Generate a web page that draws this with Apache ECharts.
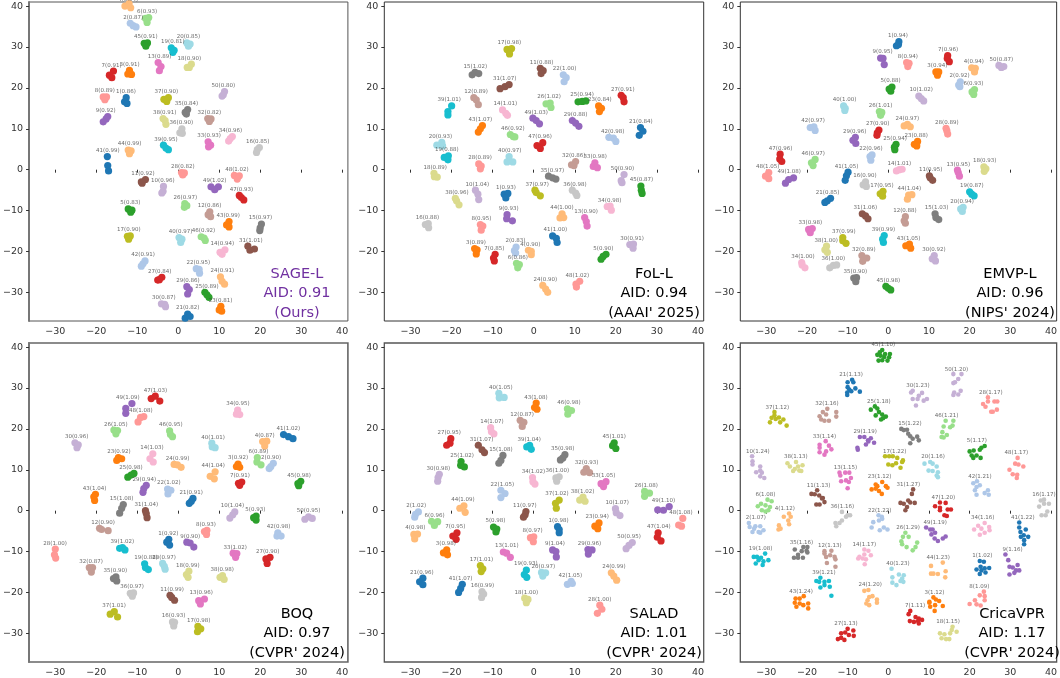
<!DOCTYPE html>
<html>
<head>
<meta charset="utf-8">
<style>html,body{margin:0;padding:0;background:#fff}#chart{width:1060px;height:678px;filter:blur(0.35px)}</style>
<script src="https://cdn.jsdelivr.net/npm/echarts@6/dist/echarts.min.js"></script>
</head>
<body>
<div id="chart"></div>
<script>
const tickValues = [-30,-20,-10,0,10,20,30,40];
const tab20 = ['#1f77b4','#aec7e8','#ff7f0e','#ffbb78','#2ca02c','#98df8a','#d62728','#ff9896','#9467bd','#c5b0d5','#8c564b','#c49c94','#e377c2','#f7b6d2','#7f7f7f','#c7c7c7','#bcbd22','#dbdb8d','#17becf','#9edae5'];

// each row: cluster id, AID, then x,y pairs
const sage = [
[4,'0.94',-13,40,-12,40.6,-11.6,39.6],[6,'0.93',-8,37,-7.2,37.2,-7.6,36],[2,'0.87',-11.7,35.8,-11,35.2,-10.3,34.9],
[45,'0.91',-8.3,30.9,-7.5,31,-7.9,30.2],[20,'0.85',2.1,31,2.9,30.7,2.5,30.2],[19,'0.81',-1.7,29.8,-1,29.2,-1.3,28.7],
[13,'0.89',-4.9,26.2,-4.2,25.2,-4.6,24.2],[18,'0.90',2.2,25,3.2,25.8,2.7,25],[7,'0.91',-15.8,24.1,-16.8,23.1,-16.2,22.5],
[3,'0.91',-11.9,24.3,-12.3,23.4,-11.4,23.3],[50,'0.80',11.3,19.1,11,18.3,10.7,18],[8,'0.89',-18.3,17.8,-17.5,17.8,-17.9,17.1],
[1,'0.86',-12.7,17.6,-13.1,16.6,-12.5,16.2],[37,'0.90',-3.5,17.2,-2.4,17.6,-2.8,16.7],[35,'0.84',2.3,14.7,1.7,14,2,13.6],
[32,'0.82',7.2,12.5,8,12.4,7.6,11.8],[9,'0.92',-17.2,13,-17.6,12.4,-18.3,11.7],[38,'0.91',-3.7,12.5,-3.2,12,-3,11.1],
[36,'0.90',0.9,10,0.4,9,1,8.9],[34,'0.96',13.2,8.1,12.7,7.6,12.3,7],[33,'0.93',7.3,6.8,7.9,6,7.4,5.6],
[16,'0.85',19.8,5.4,19.3,4.9,19.1,4.2],[39,'0.95',-3.6,6,-3,5.3,-2.4,4.9],[44,'0.99',-12.2,4.8,-11.5,4.6,-11.9,3.9],
[41,'0.99',-17.3,3.2,-17.2,1,-17,-0.3],[28,'0.82',0.8,-0.7,1.5,-0.8,1.1,-1.3],[48,'1.02',13.7,-1.4,14.9,-1.5,14.4,-2.3],
[11,'0.92',-9,-3,-8,-2.4,-8.8,-3.3],[10,'0.96',-3.6,-4.1,-3.7,-5.3,-4,-5.7],[49,'1.02',8,-4.2,9.8,-4.2,8.9,-4.9],
[47,'0.93',14.9,-6.3,15.4,-6.8,16,-7.4],[26,'0.97',1.6,-8.3,2.1,-8.8,1.5,-9.2],[5,'0.83',-12.2,-9.6,-11.3,-9.9,-11.6,-10.4],
[12,'0.86',7.7,-10.3,7.3,-11,7.9,-11.5],[43,'0.99',12.4,-12.7,11.8,-13.5,12.4,-14],[15,'0.97',20.3,-13.3,20,-14.2,19.9,-14.9],
[17,'0.90',-12.4,-16.3,-11.7,-16.2,-12.1,-17],[40,'0.97',0.2,-16.6,0.9,-17,0.6,-17.8],[46,'0.92',5.6,-16.4,6.3,-16.7,6.6,-17.3],
[14,'0.94',10.2,-20.2,11.4,-19.6,10.7,-20.7],[31,'1.01',17,-18.7,18.6,-19.4,17.5,-19.7],[42,'0.91',-8.1,-22.3,-8.6,-23,-9,-23.6],
[22,'0.95',4.4,-24.2,5.1,-24.4,5.2,-25.3],[24,'0.91',10.3,-26.2,10.7,-27.3,11.3,-28],[27,'0.84',-5,-27,-4,-26.3,-4.6,-26.9],
[29,'0.86',2.1,-28.6,2.7,-29.3,2.3,-30.4],[25,'0.89',6.5,-30,7,-30.6,7.5,-31.2],[30,'0.87',-4.1,-32.8,-3.3,-32.9,-3.1,-33.5],
[23,'0.81',10.4,-33.4,10,-34.3,10.6,-34.6],[21,'0.82',2.3,-35.3,1.7,-36.3,2.9,-35.9]
];
const fol = [
[17,'0.98',-6.5,29.4,-5.4,29.6,-5.9,28.3],[11,'0.88',1.6,24.8,2.3,24.2,1.8,23.5],[15,'1.02',-15,23.2,-14.3,23.8,-13.4,23.5],
[22,'1.00',7.2,23.2,7.9,22.5,7.4,21.5],[31,'1.07',-8.2,19.8,-7,20.3,-6,20.8],[12,'0.89',-14.6,17.6,-14,17.1,-13.5,15.9],
[39,'1.01',-20,15.6,-20.9,14.2,-20.9,13.4],[14,'1.01',-7.6,14.6,-6.8,13.8,-6.4,13.3],[26,'1.02',3,16.1,4,16.3,4.2,15.2],
[25,'0.94',10.8,16.6,11.8,16.7,12.7,16.8],[23,'0.84',15.8,15.6,16.5,15,16,14.2],[27,'0.91',21.3,18.2,21.8,17.6,22,16.6],
[49,'1.03',-0.2,12.6,0.6,12,1.4,11.2],[29,'0.88',9.4,12,10.2,11.4,11,10.6],[43,'1.07',-12.5,10.8,-13,10,-13.5,9.2],
[46,'0.92',-5.7,8.6,-5,8.1,-4.6,8],[21,'0.84',26,10.3,26.6,9.4,25.7,8.4],[42,'0.98',18.3,7.9,19.4,7.7,20,6.9],
[47,'0.96',0.8,5.9,2.2,6.6,1.6,5.2],[20,'0.93',-23.6,6,-22.4,6.7,-22.2,5.8],[19,'0.88',-21.8,3,-20.8,3.4,-20.9,2.4],
[40,'0.97',-6,3.2,-6.5,1.9,-5.1,1.9],[28,'0.89',-13.4,1.4,-12.8,0.9,-13,0.2],[32,'0.86',9.2,1.2,10.2,2,9.8,1],
[33,'0.98',14.9,1.7,14.5,0.8,15.5,0.5],[18,'0.89',-24.3,-0.9,-24.2,-1.7,-23.5,-1.8],[35,'0.97',3.6,-1.6,4.6,-2,5.4,-2.3],
[50,'0.90',22,-1.2,21.3,-2.7,21.5,-3.2],[45,'0.87',26.1,-4,26.2,-5,26.4,-5.8],[1,'0.93',-7.2,-6,-6.3,-5.8,-6.8,-6.9],
[37,'0.97',0.3,-5,0.6,-5.6,1.6,-6.4],[36,'0.98',9.4,-5,10.2,-5.7,10.5,-6.3],[10,'1.04',-14.2,-5,-13.6,-6,-13.4,-7.3],
[38,'0.96',-19.1,-7,-18.8,-7.6,-18.2,-8.6],[34,'0.98',17.9,-9,18.6,-8.9,18.9,-9.9],[9,'0.93',-6.5,-11,-6.6,-12,-5.2,-12.5],
[44,'1.00',6.9,-10.8,6.4,-11.8,7.3,-11.7],[13,'0.90',12.4,-11.7,12.8,-12.7,13,-13.8],[16,'0.88',-26.4,-13.4,-25.7,-13.2,-25.6,-14.2],
[8,'0.95',-13,-13.4,-12.4,-13.8,-12.8,-14.8],[41,'1.00',4.6,-16.2,5.5,-16.8,5.7,-17.8],[30,'0.91',23.4,-18.3,24.3,-18.2,24.2,-19.2],
[3,'0.89',-14.4,-19.3,-13.8,-19.6,-14,-20.6],[2,'0.83',-4.3,-18.9,-4.7,-19.8,-4.4,-20.4],[4,'0.90',-1.3,-19.7,-0.6,-20,-0.6,-20.8],
[7,'0.85',-9.4,-20.7,-9.8,-21.6,-9.6,-22.3],[6,'0.86',-4.2,-22.9,-3.5,-23.2,-3.9,-24],[5,'0.90',17.6,-20.7,16.9,-21.2,16.4,-21.9],
[24,'0.90',2.2,-28.3,2.9,-29.2,3.4,-30],[48,'1.02',11.2,-27.3,10.3,-28,10.4,-28.7]
];
const emvp = [
[1,'0.94',2.6,31.3,2.5,30.6,2,30.3],[9,'0.95',-1.9,27.3,-1.3,27.2,-1,25.7],[8,'0.94',4.5,26.2,5.1,26,4.8,25.2],
[7,'0.96',14.6,27.9,14.5,27.2,15,26.4],[3,'0.94',11.7,23.9,12.4,23.9,12.1,23.1],[4,'0.94',20.5,24.9,21.4,24.8,21.2,23.9],
[50,'0.87',27.2,25.5,27.8,25,28.4,25.2],[2,'0.92',17.7,21.5,17.3,20.7,17.6,20.3],[6,'0.93',21.2,19.6,20.6,19,21,18.4],
[5,'0.88',0.9,20.2,0.2,19.7,0.6,19.2],[10,'1.02',7.5,18,8.1,17.4,8.7,16.8],[40,'1.00',-11,15.6,-10.6,15,-10.7,14.5],
[26,'1.01',-2.2,14.2,-1.6,14,-1.9,13.3],[24,'0.97',3.9,10.7,4.7,11.1,5.4,10.5],[42,'0.97',-19.2,10.3,-18.3,10.5,-18,9.6],
[27,'0.90',-2.3,9.7,-2.7,9,-2.8,8.4],[28,'0.89',14.2,10.1,14.4,9.5,14.6,8.7],[29,'0.96',-8.1,7.9,-8.7,7.2,-8,6.4],
[25,'0.94',1.9,6.2,1.5,5.5,1.6,4.9],[23,'0.88',7.2,6.9,6.4,6.2,7,5.8],[47,'0.96',-26.6,3.8,-26.7,2.6,-26.2,2],
[46,'0.97',-18,2.5,-18.9,1.7,-18.5,1],[22,'0.96',-4,3.6,-4.5,3.2,-4.3,2.3],[14,'1.01',2,-0.3,2.7,0,3.4,0.1],
[13,'0.95',17,-0.1,17.2,-0.7,17.5,-1.6],[18,'0.93',23.5,0.7,24,0.2,23.6,-0.4],[48,'1.05',-29.4,-0.7,-30.2,-1.6,-29.4,-2.2],
[49,'1.08',-23.3,-2,-24.5,-2.4,-25.3,-3.3],[41,'1.05',-9.9,-0.6,-10.3,-1.5,-10.6,-2.6],[11,'0.95',10.1,-1.5,10.3,-2,10.9,-2.6],
[16,'0.90',-5.6,-3,-6.2,-3.7,-5.4,-4.1],[17,'0.95',-1.3,-5.3,-2,-5.9,-1.4,-6.5],[44,'1.04',5,-6.2,5.8,-6.1,4.7,-7.2],
[19,'0.87',20,-5.4,20.5,-6,21.1,-6.4],[21,'0.85',-14.2,-7,-15,-7.6,-15.6,-8],[20,'0.94',18.4,-9.2,17.8,-9.6,18.2,-10.2],
[31,'1.06',-6.4,-10.8,-5.6,-11.3,-5,-12],[12,'0.88',4.2,-11.5,3.9,-12.5,4.2,-13.1],[15,'1.03',11.5,-10.8,11.7,-11.7,12.4,-12.2],
[33,'0.98',-19.6,-14.6,-18.7,-14.4,-19.2,-15.4],[37,'0.99',-11.2,-16.6,-11.2,-17.4,-10.4,-18],[39,'0.99',-1,-16.1,-1.4,-17,-1.2,-17.8],
[43,'1.05',4.3,-18.6,5.2,-18.2,5.5,-19.2],[38,'1.00',-15.2,-18.7,-15.6,-19.6,-15,-20.2],[32,'0.89',-6.5,-21,-5.3,-21.6,-6.3,-22.4],
[30,'0.92',11.3,-21,10.8,-21.8,11.6,-22.3],[34,'1.00',-21.3,-22.7,-21.2,-23.3,-20.5,-24],[36,'1.00',-14.4,-24,-13.5,-23.4,-12.7,-23.3],
[35,'0.90',-8.5,-26.5,-7.8,-26.4,-8,-27.4],[45,'0.98',-0.6,-28.5,0,-29,0.6,-29.4]
];
const boq = [
[47,'1.03',-6.6,27.4,-5.6,28,-4.5,26.8],[49,'1.09',-11.3,26.2,-12.8,25,-12.8,23.8],[48,'1.08',-8.4,23,-9.2,22.8,-9.8,21.7],
[34,'0.95',14.5,24.6,14.2,23.6,15,23.5],[26,'1.05',-15.7,19.7,-14.8,19.6,-15.2,18.8],[46,'0.95',-2.1,19.5,-1.9,18.6,-1.4,18.1],
[30,'0.96',-25.2,16.6,-24.4,16.1,-24.7,15.4],[41,'1.02',25.7,18.6,26.9,18.1,28,17.6],[4,'0.87',20.6,16.9,21.6,17,21.1,15.8],
[40,'1.01',8.2,16.5,8.3,15.6,9,15.4],[23,'0.92',-15,12.3,-14.6,13,-13.8,12.7],[14,'1.03',-6.2,13.9,-6.9,12.7,-6.1,11.9],
[6,'0.89',19.3,13,19.2,11.9,20.2,11.2],[2,'0.90',23.2,11.6,22.6,10.8,22.2,10.3],[3,'0.92',14.6,11.4,14.2,10.8,15,10.6],
[24,'0.99',-1,11.3,-0.2,11.2,0.7,10.6],[25,'0.98',-12.3,8.2,-11.5,8.7,-10.8,9.1],[44,'1.04',9,9.5,7.8,8.4,8.8,7.8],
[7,'0.91',14.7,6.7,15.5,7,15,6.2],[45,'0.98',29.9,7.2,29.2,6.6,29.4,6.1],[29,'0.94',-7.8,6.2,-8.4,5.4,-8.6,4.5],
[22,'1.02',-2.6,5.3,-1.8,5,-2.5,4.1],[43,'1.04',-20.2,4,-20.6,3.4,-20.4,2.5],[21,'0.91',3.6,3,3.2,2.3,2.7,1.8],
[15,'1.08',-13.4,1.5,-13.8,0.6,-14.3,-0.6],[31,'1.04',-8,0,-7.8,-0.7,-7.6,-1.7],[10,'1.04',13.8,-0.3,13.3,-1,12.6,-1.8],
[5,'0.93',19,-1.3,18.4,-1.7,19,-2.3],[50,'0.95',30.9,-2.1,31.8,-1.5,32.7,-1.9],[12,'0.90',-19.2,-4.3,-18.7,-4.6,-17.1,-4.9],
[8,'0.93',7,-4.8,6.4,-5.1,6.9,-5.8],[42,'0.98',24.3,-5.4,24.1,-6.2,25.1,-6.2],[1,'0.92',-2.3,-7,-2.8,-7.7,-2.1,-8.4],
[9,'0.90',2.1,-7.7,2.9,-7.9,3.8,-8.9],[39,'1.02',-14.3,-9.2,-13.6,-9,-13,-9.6],[33,'1.02',13.4,-10.4,14.3,-10.5,14,-11.4],
[27,'0.90',21.4,-11.8,22.4,-11.4,21.7,-12.9],[28,'1.00',-30,-9.4,-30.2,-10.8,-29.9,-11.6],[32,'0.87',-21.7,-13.9,-20.9,-13.9,-21.2,-15],
[19,'0.88',-8.2,-13,-8,-13.9,-7.3,-14.4],[20,'0.97',-3.8,-12.9,-3.4,-13.6,-3.2,-14.3],[18,'0.99',2.6,-14.8,2,-15.6,2.4,-16.3],
[38,'0.98',10.2,-16.3,10.8,-15.9,11.2,-16.8],[35,'0.90',-15.8,-16.6,-15.2,-16.2,-15,-17.2],[36,'0.97',-11.7,-20.2,-10.9,-20.1,-11.2,-20.9],
[11,'0.99',-2,-20.7,-1.6,-21.2,-0.9,-21.9],[13,'0.96',5,-22,6.4,-21.6,5.4,-22.8],[37,'1.01',-16.6,-25.3,-15.6,-24.7,-14.8,-26],
[16,'0.93',-1.4,-27.2,-0.9,-27.3,-1.1,-28.2],[17,'0.98',4.8,-28.3,5.5,-28.9,4.7,-29.6]
];
const salad = [
[40,'1.05',-8.5,28.7,-8.4,27.6,-7.2,27.7],[43,'1.08',0.6,26.3,0.2,25.2,0.8,24.8],[46,'0.98',8.2,24.9,9.2,24.5,8.3,23.6],
[12,'0.87',-3.3,22.1,-2.4,21.6,-2.8,20.6],[14,'1.07',-10.5,20.3,-10.3,19.3,-9.7,18.8],[27,'0.95',-20.2,17.6,-20.4,16.5,-21.2,16],
[31,'1.07',-13.5,16,-12.6,14.9,-12,14.2],[39,'1.04',-1.7,15.6,-1,16,-0.6,15],[45,'1.01',19.6,16.6,19.2,15.9,20,15.2],
[35,'0.98',7.6,13.7,7.1,12.9,6.5,12.4],[15,'1.08',-7.5,13.5,-8,12.3,-8.5,11.6],[25,'1.02',-17.7,12,-17.8,11.1,-16.9,10.7],
[32,'0.93',12.8,10.3,12.2,9.4,13.6,9.3],[30,'0.98',-23,8.9,-23.3,8.1,-23.4,7.2],[36,'1.00',5.4,8,6.2,8.3,5.6,7.2],
[34,'1.02',-0.3,8.1,-0.2,7.1,0.3,6.5],[33,'1.05',16.4,6.6,17.6,7.1,17,5.9],[26,'1.08',27,4.7,28.2,4.3,27,3.5],
[22,'1.05',-8,5,-7,4.2,-8,3.2],[38,'1.02',12,3.3,11.2,2.6,12.5,2.3],[37,'1.02',6.2,2.6,5.3,1.8,5.5,0.6],
[44,'1.09',-18,0.6,-17,1.2,-16.7,-0.4],[10,'1.07',19.9,0.5,20.1,-0.5,21,-1.2],[49,'1.10',30.2,0.2,31.6,0.1,33,1],
[2,'1.02',-28.1,-0.3,-28.8,-0.9,-29,-1.6],[11,'0.97',-1.9,-0.2,-2.1,-1,-2.5,-1.6],[48,'1.08',36.3,-1.9,35.3,-3.5,36,-3.8],
[6,'0.96',-24.9,-2.6,-23.4,-2.7,-24.2,-3.6],[23,'0.94',15.9,-3,14.9,-3.8,15.6,-4.4],[5,'0.98',-9.8,-4,-9,-4.5,-9.2,-5.2],
[1,'0.98',5.8,-3.9,6.2,-4.6,6.2,-5.4],[47,'1.04',30.3,-5.4,30.1,-6.5,31,-7.4],[4,'0.98',-29.2,-5.8,-28.3,-5.7,-29,-6.9],
[7,'0.95',-18.7,-5.4,-19.7,-6.2,-18.9,-7],[8,'0.97',-0.8,-6.6,0,-6.4,-0.1,-7.6],[3,'0.98',-21.2,-9.6,-22,-10.3,-21,-10.8],
[13,'1.01',-7.4,-10.1,-6.6,-10.4,-5.7,-11.4],[9,'1.04',4.6,-9.6,5.4,-10,5.5,-11.3],[29,'0.96',13.2,-9.5,14.2,-9.6,13.3,-10.6],
[50,'0.95',24,-7.8,23.2,-8.5,22.5,-9.3],[17,'1.01',-13,-13.4,-12.4,-14.2,-12.8,-14.9],[19,'0.93',-1.8,-14.5,-2.3,-15.6,-1.7,-16.3],
[20,'0.97',1.9,-15.1,2.9,-15.2,2.2,-16],[24,'0.99',18.9,-15.2,19.5,-16,20.2,-17],[42,'1.05',8.2,-18,9.1,-17.3,9.4,-17.8],
[21,'0.96',-27,-16.5,-27.8,-17.4,-27,-18.1],[41,'1.07',-17.4,-18,-17.8,-19,-18.3,-20],[16,'0.99',-12.6,-19.8,-12.2,-20.4,-12.7,-21.2],
[18,'1.00',-2.2,-21.4,-1.4,-21.7,-1.8,-22.5],[28,'1.00',16.1,-23.1,16.6,-24.1,15.5,-25.1]
];
const crica = [
[45,'1.10',-2.7,38.1,-2.1,38.7,-1.5,39.3,-0.8,38.3,0.4,38.3,-2.4,36.7,-1.5,36.8,-0.2,36.7,-1,37.6,-1.9,37.9,0.2,37.5],
[21,'1.13',-8.9,32,-10,31.4,-8.6,31.4,-10,30.2,-9.6,29.6,-8.1,29.9,-7,29.1,-10.1,28.9,-9.1,29.2,-10.1,28.3],
[30,'1.23',5.6,28.9,6,29.3,8.3,28.8,7.5,28.1,6,27.3,7.2,27.3,9.5,27.3,8.7,26.9,6.8,25.7],
[50,'1.20',16,33.4,18,33.4,17.2,32.2,16.4,31.4,16,31.2,17.8,29.3,16.2,28.9,17.2,28.4,16,28.3],
[28,'1.17',24.5,27.7,24.5,26.7,23.3,26.1,26.1,26.7,26.8,26.7,23.9,25.4,25.3,24.2,25.7,24.2,26.7,24.7],
[37,'1.12',-28,24.1,-28,23.3,-28.7,22.7,-29.1,21.6,-27.7,22.4,-26.9,22.8,-26.6,21.6,-25.8,22.3,-25,20.8],
[32,'1.16',-15,24.9,-16.1,24.1,-16.9,23.1,-15.3,23.5,-12.8,24.1,-12.8,23,-16.5,22.3,-15.7,22,-14.6,22],
[25,'1.18',-4.3,24.7,-3.3,25.5,-2.7,25,-2.3,24.1,-1.5,23.5,-3.1,23.3,-1.3,22.6,-0.6,23,-1.8,22.3],
[46,'1.21',16,22,14.1,22,13.6,20.6,15.2,20.4,15.8,20.8,13.3,19.2,13.1,18,14.4,18.5,13.6,17.9],
[15,'1.22',3.2,20,4.6,19.8,4.9,18.8,5.4,18.2,7.1,18.1,6,17.6,7.5,17.2,5.4,16.5,3.8,19.7],
[29,'1.19',-7,18,-5.9,18,-4.3,17.7,-3.5,16.6,-5.5,16.2,-5,17.2,-7.6,15.4,-7.5,14.9,-4.9,16.9],
[33,'1.14',-15.4,17,-16.9,16.1,-16.9,15.4,-14.6,15.9,-14,15,-16.9,14.3,-15.7,13.7,-15.3,14.5],
[5,'1.17',20,14.5,21,14.7,20.5,13.5,21.7,13.5,22.5,14.9,23.7,15.8,22.9,15.4,20.9,12.9,22.7,12.9],
[17,'1.22',-0.8,13.3,0.2,13.3,1.1,13.3,2.2,12.9,3.6,12.3,0,11.3,1,11.1,1.9,11.6,3,10.5,3.4,11.9],
[48,'1.17',31.8,12.9,31.2,11.5,32,11.3,33.2,10.8,29.8,10,30.6,8.9,31.7,8.8,31.6,8],
[10,'1.24',-33.5,13.3,-33.4,12.1,-33.4,11.3,-31.5,10.8,-31.5,9.8,-32.5,9.4,-31.1,9.3,-31.5,8.4,-30.5,8],
[38,'1.13',-24.8,11.6,-24.2,10.8,-22.7,11.9,-22.2,10.8,-21.1,11.1,-23.4,9.7,-21.9,9.8,-21.4,9.7,-23,10.2],
[20,'1.16',8.9,11.5,10.3,11.9,10.9,11.5,11.9,10.8,9.9,9.8,10.9,9.7,12.2,9.4,11.9,8.6,12.2,8.2],
[13,'1.15',-12,9.3,-11.8,8.6,-10.6,9.3,-9.6,9.3,-9.2,8,-11.6,7.2,-10.4,7.4,-9.7,7,-10,5.5],
[42,'1.21',20.9,6.7,21.8,7.2,22.5,6.2,21.3,5,21.7,3.9,24.5,5,23.7,4.3,24.7,3.9,21.7,5.8],
[23,'1.12',-3.1,5.4,-4.1,5.2,-2.7,6,-1.5,7,-0.6,6,-0.2,5.6,-2.3,4.8,-1.6,4.1,-3.1,6.4],
[11,'1.13',-17.5,5,-18.9,4.1,-18.1,4,-17,3.7,-16.1,3.1,-15.7,2.1,-17.7,1.5,-16.9,1.5,-16.3,3],
[31,'1.27',6.1,5.2,5.8,4.1,3,1.9,3.8,1.7,4.9,2.5,6.5,1.9,5.4,2,4.6,0.9,4.2,0.1],
[47,'1.20',11.5,1.1,12.7,2,14.1,1.9,12.7,0.7,14.6,0.3,15.4,0.3,13.8,-1.1,14.4,-1.3,12.7,0.1],
[16,'1.17',37.5,2.5,38.3,2.7,39.5,1.7,37.1,1,38.3,1.7,39.1,-0.2,37.7,-1.1,38.7,-1.1],
[6,'1.08',-29.7,2.7,-28.7,2.3,-31.3,1.7,-32.1,1.1,-30.2,1.3,-30.2,-0.2,-29.1,0.9,-29.5,0.1,-31.1,0.1],
[4,'1.12',-24.4,-0.7,-25.7,-1.5,-24,-1.5,-24.6,-2.4,-26.9,-3.6,-24.4,-3.3,-27,-4.6,-26.5,-4.4],
[36,'1.16',-11.4,-0.3,-9.4,-1.1,-10.4,-1.5,-11.4,-2.4,-13,-3,-12.8,-3.8,-12,-3,-10,-1.1],
[22,'1.22',-2.4,-1.1,-1.5,-2,-2.3,-2.4,-3.7,-2.8,-4.1,-4.1,-2.1,-4.8,-1.1,-4.1,-0.2,-4.6,-1.6,-1.5],
[2,'1.07',-34.3,-3,-34.1,-4,-32.7,-3.8,-31.5,-3.8,-33.4,-5.2,-31.9,-5.2,-30.7,-4.8,-31.5,-5.4,-33,-4.4],
[34,'1.16',23.7,-3,22.1,-3.7,21.1,-4.6,22.5,-5.9,23.7,-5.4,24.9,-4.8,24.8,-4,22.9,-4.4],
[49,'1.19',9.3,-4.1,10.3,-4.6,10.9,-4.6,10.6,-5.8,11.4,-6.8,12.2,-7.4,13.4,-6.8,14.1,-6.3,11.5,-5.4],
[41,'1.22',32.2,-2.9,32.2,-4.1,32.5,-5.2,33.8,-4.6,33.3,-6,32.6,-6.4,34.4,-6.4,33.4,-7.2,33.4,-8.2],
[26,'1.29',4.2,-5.4,3.6,-6.4,3.2,-7.5,5,-6.4,4.5,-8.9,7.1,-7.8,6.7,-8.9,6,-9.7,3.4,-8.2],
[19,'1.08',-33.1,-11.3,-32.3,-11.3,-31.3,-11.5,-30.3,-10.5,-29.5,-12.1,-30.7,-12.4,-32.6,-12.9,-30.9,-13.3,-31.9,-12.1],
[35,'1.16',-23,-9.5,-20.9,-8.9,-19.9,-8.9,-21.3,-9.9,-20.1,-9.8,-23.2,-11.5,-22.2,-11.5,-21,-11.5,-19.9,-10.2,-22.2,-10.8],
[12,'1.13',-15.7,-9.9,-14,-9.8,-14.3,-10.9,-15.3,-11.3,-13.2,-11.3,-13,-11.9,-15.1,-12.8,-13,-13.7,-15.7,-10.5],
[14,'1.17',-5.9,-9.5,-4.9,-9.8,-5.9,-10.7,-4.3,-10.9,-7.4,-11.7,-6.3,-11.7,-5.5,-11.9,-5.8,-13.1,-7.1,-11.3],
[9,'1.16',28.8,-10.7,29.5,-12.1,29.8,-13.7,30.6,-13.9,31.8,-13.3,31.4,-14.6,29.8,-15.6,31,-15.2,32.2,-14.6],
[1,'1.02',22.5,-12.3,23.5,-12.5,22.7,-13.7,21.7,-14.4,23.7,-14.1,24.8,-14,22.5,-15.5,23.9,-15.1,22.9,-14.6],
[44,'1.23',13.4,-12.7,10.5,-13.5,10.5,-15.4,11.1,-15.4,12.2,-15.5,14.1,-14.8,14,-16.3],
[40,'1.23',0.8,-14.2,1,-16.3,2.6,-15.6,3.8,-15.8,3.4,-16.6,3,-17.2,2,-18.2,1,-17.6,3.7,-17.4],
[39,'1.21',-17.7,-17.2,-16.7,-16.4,-15.7,-17.4,-14.6,-17.2,-16.7,-18.8,-15.7,-18.2,-14.4,-18.6,-14,-20.8,-17,-17.4],
[24,'1.20',-5.9,-19.6,-4.9,-19.4,-4.7,-21.1,-3.9,-20.9,-2.8,-21.7,-5.4,-22.7,-4.7,-23.1,-2.8,-22.5,-5.1,-21.9],
[43,'1.24',-22.8,-21.5,-21.8,-21.5,-20.8,-20.9,-23,-22.5,-21.8,-22.7,-19.7,-22.7,-22.6,-23.5,-20.9,-23.1,-19.7,-23.9],
[3,'1.12',11.1,-21.2,10.1,-22.3,11.7,-21.7,12.5,-22.1,13.4,-23.3,10.3,-23.5,11.5,-23.1,11.4,-24.5,10.1,-22.5],
[8,'1.09',23.5,-19.8,22.5,-20.7,23.7,-20.9,20,-22.8,21.3,-21.9,21.7,-22.9,22.7,-23.2,23.7,-21.9],
[7,'1.11',5.4,-24.5,5,-25.3,6.7,-26,7.5,-26.4,5.3,-27,6.3,-27.2,7.3,-27,8.3,-26.7,7.5,-27.6],
[18,'1.15',15.8,-28.4,12.7,-30,13.8,-30.2,15.2,-30,16.8,-29.6,13.1,-31.2,14.2,-31.4,15,-31.4,15.6,-29.2],
[27,'1.13',-10,-28.9,-11.6,-30,-10.6,-29.8,-8.6,-29.3,-12.4,-31.4,-11.6,-31.1,-10.8,-31.6,-9.7,-30.4,-8.5,-30.6]
];

const panelNames = ['SAGE-L','FoL-L','EMVP-L','BOQ','SALAD','CricaVPR'];
const panelAid = ['AID: 0.91','AID: 0.94','AID: 0.96','AID: 0.97','AID: 1.01','AID: 1.17'];
const panelVenue = ['(Ours)',"(AAAI' 2025)","(NIPS' 2024)","(CVPR' 2024)","(CVPR' 2024)","(CVPR' 2024)"];
const panelData = [sage,fol,emvp,boq,salad,crica];

// layout only
const frames = [
  {left:28.5,top:2,dot:7.2,titleX:297,titleY:264,color:'#7030a0',edge:'#555',edgeW:1,thickLeft:true},
  {left:384.3,top:2,dot:7.2,titleX:654,titleY:264,color:'#000',edge:'#333',edgeW:1},
  {left:740.3,top:2,dot:7.2,titleX:1010,titleY:264,color:'#000',edge:'#333',edgeW:1},
  {left:28.5,top:343,dot:7.2,titleX:297,titleY:604,color:'#000',edge:'#666',edgeW:1.6,thickLeft:true},
  {left:384.3,top:343,dot:7.2,titleX:654,titleY:604,color:'#000',edge:'#555',edgeW:1.3},
  {left:740.3,top:343,dot:4.6,titleX:1012,titleY:604,color:'#000',edge:'#555',edgeW:1.3}
];
const PW=319.4, PH=319;
const grid=[],xAxis=[],yAxis=[],series=[],title=[];
const fmt=v=>String(v).replace('-','\u2212');
const tickCfg={show:true,customValues:tickValues,length:3,lineStyle:{color:'#333',width:1}};
const labelCfg={customValues:tickValues,formatter:fmt,fontSize:9.5,color:'#333',fontFamily:'DejaVu Sans',margin:6};
frames.forEach((f,i)=>{
  grid.push({left:f.left,top:f.top,width:PW,height:PH,show:true,borderColor:f.edge,borderWidth:f.edgeW,backgroundColor:'#fff'});
  xAxis.push({type:'value',gridIndex:i,min:-36.4,max:41.4,splitLine:{show:false},axisLine:{show:false},axisTick:tickCfg,axisLabel:labelCfg});
  yAxis.push({type:'value',gridIndex:i,min:-37,max:41,splitLine:{show:false},
    axisLine:{show:!!f.thickLeft,onZero:false,lineStyle:{color:'#777',width:2}},axisTick:tickCfg,axisLabel:labelCfg});
  const pts=[],labels=[];
  panelData[i].forEach(row=>{
    const id=row[0],aid=row[1];
    let sx=0,n=0,top=-99;
    for(let k=2;k<row.length;k+=2){
      pts.push([row[k],row[k+1],id]);
      sx+=row[k];n++;top=Math.max(top,row[k+1]);
    }
    labels.push({value:[sx/n,Math.min(top,40.2)],name:id+'('+aid+')'});
  });
  series.push({type:'scatter',xAxisIndex:i,yAxisIndex:i,data:pts,symbolSize:f.dot,silent:true,
    itemStyle:{opacity:1,color:p=>tab20[(p.value[2]-1)%20]},z:2});
  series.push({type:'scatter',xAxisIndex:i,yAxisIndex:i,data:labels,symbolSize:0,silent:true,clip:false,z:3,
    label:{show:true,position:'top',distance:f.dot>5?3:2,formatter:p=>p.name,fontSize:5.5,color:'#444',fontFamily:'DejaVu Sans'}});
  title.push({text:panelNames[i]+'\n'+panelAid[i]+'\n'+panelVenue[i],left:f.titleX,top:f.titleY,textAlign:'center',padding:0,
    textStyle:{fontFamily:'DejaVu Sans',fontSize:14.5,fontWeight:'normal',color:f.color,lineHeight:19.5}});
});
const chart=echarts.init(document.getElementById('chart'),null,{renderer:'canvas'});
chart.setOption({animation:false,backgroundColor:'#fff',grid,xAxis,yAxis,series,title});
</script>
</body>
</html>
